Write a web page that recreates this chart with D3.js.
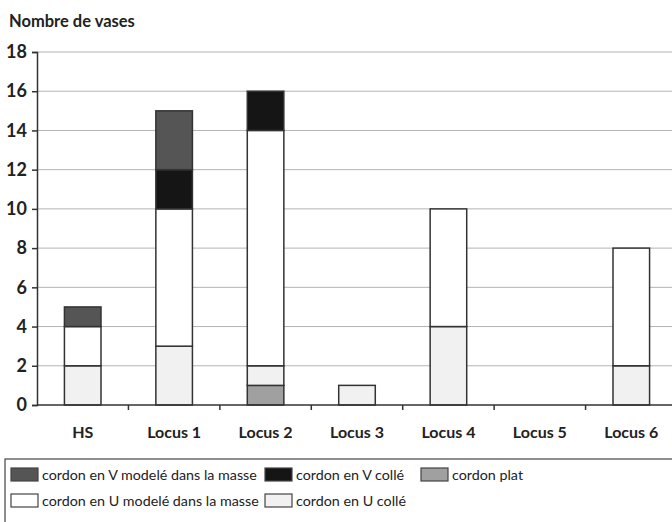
<!DOCTYPE html>
<html>
<head>
<meta charset="utf-8">
<script src="https://cdn.jsdelivr.net/npm/d3@7"></script>
<style>
  body { margin: 0; background: #fff; overflow: hidden; }
  svg { font-family: Lato, "Open Sans", sans-serif; }
</style>
</head>
<body>
<div id="chart"></div>
<script>
// categories and series (bottom to top of each stack)
const categories = ["HS", "Locus 1", "Locus 2", "Locus 3", "Locus 4", "Locus 5", "Locus 6"];
const cordonPlat = [0, 0, 1, 0, 0, 0, 0];
const cordonUColle = [2, 3, 1, 1, 4, 0, 2];
const cordonUModele = [2, 7, 12, 0, 6, 0, 6];
const cordonVColle = [0, 2, 2, 0, 0, 0, 0];
const cordonVModele = [1, 3, 0, 0, 0, 0, 0];
const yTicks = [0, 2, 4, 6, 8, 10, 12, 14, 16, 18];

const series = [
  { key: "plat", label: "cordon plat", values: cordonPlat, color: "#a0a0a0" },
  { key: "uColle", label: "cordon en U collé", values: cordonUColle, color: "#f1f1f1" },
  { key: "uModele", label: "cordon en U modelé dans la masse", values: cordonUModele, color: "#ffffff" },
  { key: "vColle", label: "cordon en V collé", values: cordonVColle, color: "#151515" },
  { key: "vModele", label: "cordon en V modelé dans la masse", values: cordonVModele, color: "#555555" }
];

const W = 672, H = 522;
const margin = { top: 52, left: 37, bottom: 117 };
const plotW = 640, plotH = H - margin.top - margin.bottom;

const svg = d3.select("#chart").append("svg")
  .attr("width", W).attr("height", H);

const table = categories.map((c, i) => {
  const row = { cat: c };
  series.forEach(s => row[s.key] = s.values[i]);
  return row;
});
const stacked = d3.stack().keys(series.map(s => s.key))(table);

const x = d3.scaleBand().domain(categories).range([margin.left, margin.left + plotW]).paddingInner(0.6).paddingOuter(0.3);
const y = d3.scaleLinear().domain([0, 18]).range([margin.top + plotH, margin.top]);

// title
svg.append("text").attr("x", 9).attr("y", 27)
  .style("font-size", "16.5px").style("font-weight", "bold").style("fill", "#222")
  .text("Nombre de vases");

// gridlines
svg.append("g").selectAll("line").data(yTicks.filter(d => d > 0)).join("line")
  .attr("x1", margin.left).attr("x2", W)
  .attr("y1", d => y(d)).attr("y2", d => y(d))
  .attr("stroke", "#b4b4b4").attr("stroke-width", 1);

// bars
svg.append("g").selectAll("g").data(stacked).join("g")
  .attr("fill", (d, i) => series[i].color)
  .selectAll("rect").data(d => d.filter(p => p[1] > p[0])).join("rect")
  .attr("x", d => x(d.data.cat))
  .attr("width", x.bandwidth())
  .attr("y", d => y(d[1]))
  .attr("height", d => y(d[0]) - y(d[1]))
  .attr("stroke", "#333").attr("stroke-width", 1.5);

// y axis
const yAxis = svg.append("g").attr("transform", `translate(${margin.left},0)`)
  .call(d3.axisLeft(y).tickValues(yTicks).tickSize(5).tickPadding(5));
yAxis.selectAll("text").style("font-size", "18px").style("font-weight", "bold").style("fill", "#222")
  .style("font-family", "Lato, 'Open Sans', sans-serif");
yAxis.selectAll("line, path").attr("stroke", "#333").attr("stroke-width", 1.5);

// x axis with ticks at band boundaries
const step = x.step();
const xa = svg.append("g");
xa.append("line").attr("x1", margin.left).attr("x2", W)
  .attr("y1", y(0)).attr("y2", y(0)).attr("stroke", "#333").attr("stroke-width", 1.5);
xa.selectAll(".xt").data(categories.slice(1)).join("line")
  .attr("x1", d => x(d) - (step - x.bandwidth()) / 2)
  .attr("x2", d => x(d) - (step - x.bandwidth()) / 2)
  .attr("y1", y(0)).attr("y2", y(0) + 5).attr("stroke", "#333").attr("stroke-width", 1.5);
xa.selectAll("text").data(categories).join("text")
  .attr("x", d => x(d) + x.bandwidth() / 2).attr("y", y(0) + 33)
  .attr("text-anchor", "middle")
  .style("font-size", "16px").style("font-weight", "bold").style("fill", "#222")
  .text(d => d);

// legend
const lg = svg.append("g");
lg.append("rect").attr("x", 5).attr("y", 459).attr("width", 680).attr("height", 80)
  .attr("fill", "none").attr("stroke", "#444").attr("stroke-width", 1.2);
const legendPos = [
  { key: "vModele", x: 11, y: 468 },
  { key: "vColle", x: 265, y: 468 },
  { key: "plat", x: 421, y: 468 },
  { key: "uModele", x: 11, y: 494 },
  { key: "uColle", x: 265, y: 494 }
];
legendPos.forEach(p => {
  const s = series.find(d => d.key === p.key);
  lg.append("rect").attr("x", p.x).attr("y", p.y).attr("width", 27).attr("height", 13)
    .attr("fill", s.color).attr("stroke", "#444").attr("stroke-width", 1.2);
  lg.append("text").attr("x", p.x + 31).attr("y", p.y + 11.5)
    .style("font-size", "14.3px").style("fill", "#222")
    .text(s.label);
});
</script>
</body>
</html>
